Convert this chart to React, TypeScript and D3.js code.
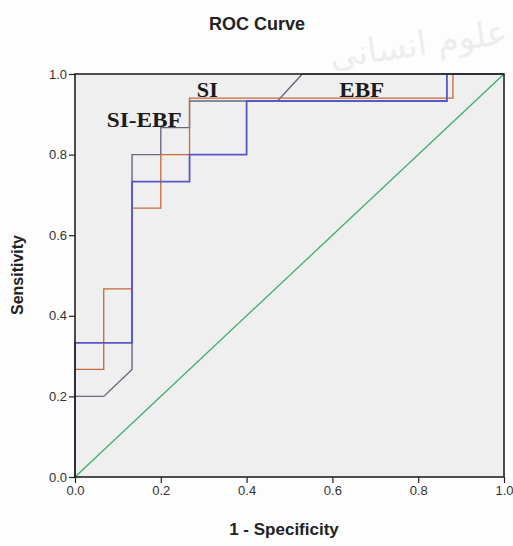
import React, { useEffect, useRef } from 'react';
import * as d3 from 'd3';

// ROC points: [1 - specificity, sensitivity]
const siEbfCurve: [number, number][] = [
  [0, 0], [0, 0.333], [0.133, 0.333], [0.133, 0.733], [0.267, 0.733],
  [0.267, 0.8], [0.4, 0.8], [0.4, 0.933], [0.867, 0.933], [0.867, 1], [1, 1],
];
const ebfCurve: [number, number][] = [
  [0, 0], [0, 0.267], [0.067, 0.267], [0.067, 0.467], [0.133, 0.467],
  [0.133, 0.667], [0.2, 0.667], [0.2, 0.8], [0.267, 0.8], [0.267, 0.94],
  [0.881, 0.94], [0.881, 1], [1, 1],
];
const siCurve: [number, number][] = [
  [0, 0], [0, 0.2], [0.067, 0.2], [0.133, 0.267], [0.133, 0.8], [0.2, 0.8],
  [0.2, 0.867], [0.267, 0.867], [0.267, 0.933], [0.472, 0.933], [0.53, 1], [1, 1],
];
const refLine: [number, number][] = [[0, 0], [1, 1]];

const tickValues = [0, 0.2, 0.4, 0.6, 0.8, 1.0];

// curve labels: text, x value, y value (baseline), drawn width
const curveLabels: [string, number, number, number][] = [
  ['SI', 0.284, 0.944, 21],
  ['SI-EBF', 0.074, 0.868, 75],
  ['EBF', 0.616, 0.944, 45],
];

const App = () => {
  const svgRef = useRef<SVGSVGElement>(null);

  useEffect(() => {
    const svg = d3.select(svgRef.current);
    svg.selectAll('*').remove();

    const width = 513;
    const height = 546;
    const left = 75;
    const right = 504;
    const top = 74;
    const bottom = 477;

    const x = d3.scaleLinear().domain([0, 1]).range([left, right]);
    const y = d3.scaleLinear().domain([0, 1]).range([bottom, top]);

    svg.append('rect')
      .attr('width', width)
      .attr('height', height)
      .attr('fill', '#fdfdfd');

    // faint watermark
    svg.append('text')
      .attr('x', 508)
      .attr('y', 50)
      .attr('text-anchor', 'end')
      .attr('font-family', 'DejaVu Sans')
      .attr('font-size', 34)
      .attr('fill', '#ededed')
      .attr('transform', 'rotate(-8, 460, 45)')
      .text('علوم انسانی');

    // plot background
    svg.append('rect')
      .attr('x', left)
      .attr('y', top)
      .attr('width', right - left)
      .attr('height', bottom - top)
      .attr('fill', '#efefef');

    const line = d3.line<[number, number]>()
      .x(d => x(d[0]))
      .y(d => y(d[1]));

    svg.append('path')
      .datum(refLine)
      .attr('fill', 'none')
      .attr('stroke', '#3bae6e')
      .attr('stroke-width', 1.3)
      .attr('d', line);

    svg.append('path')
      .datum(siCurve)
      .attr('fill', 'none')
      .attr('stroke', '#676a7e')
      .attr('stroke-width', 1.4)
      .attr('d', line);

    svg.append('path')
      .datum(ebfCurve)
      .attr('fill', 'none')
      .attr('stroke', '#c8683a')
      .attr('stroke-width', 1.3)
      .attr('d', line);

    svg.append('path')
      .datum(siEbfCurve)
      .attr('fill', 'none')
      .attr('stroke', '#5757c8')
      .attr('stroke-width', 1.8)
      .attr('d', line);

    // frame drawn over the curves
    svg.append('rect')
      .attr('x', left)
      .attr('y', top)
      .attr('width', right - left)
      .attr('height', bottom - top)
      .attr('fill', 'none')
      .attr('stroke', '#222')
      .attr('stroke-width', 1.6);

    // axes
    const xAxis = svg.append('g')
      .attr('transform', `translate(0,${bottom})`)
      .call(d3.axisBottom(x).tickValues(tickValues).tickSize(6).tickPadding(3).tickFormat(d3.format('.1f')));
    const yAxis = svg.append('g')
      .attr('transform', `translate(${left},0)`)
      .call(d3.axisLeft(y).tickValues(tickValues).tickSize(6).tickPadding(2).tickFormat(d3.format('.1f')));

    [xAxis, yAxis].forEach(a => {
      a.select('.domain').remove();
      a.selectAll('line').attr('stroke', '#222').attr('stroke-width', 1.2);
      a.selectAll('text')
        .attr('font-family', 'Arial, Liberation Sans, sans-serif')
        .attr('font-size', 13)
        .attr('fill', '#333');
    });

    // curve labels
    curveLabels.forEach(([t, vx, vy, w]) => {
      svg.append('text')
        .attr('x', x(vx))
        .attr('y', y(vy))
        .attr('font-family', 'Liberation Serif, Times New Roman, serif')
        .attr('font-weight', 'bold')
        .attr('font-size', 20)
        .attr('fill', '#1a1a1a')
        .attr('textLength', w)
        .attr('lengthAdjust', 'spacingAndGlyphs')
        .text(t);
    });

    // titles
    svg.append('text')
      .attr('x', 257)
      .attr('y', 30)
      .attr('text-anchor', 'middle')
      .attr('font-family', 'Arial, Liberation Sans, sans-serif')
      .attr('font-weight', 'bold')
      .attr('font-size', 18)
      .attr('fill', '#222')
      .text('ROC Curve');

    svg.append('text')
      .attr('x', 284)
      .attr('y', 535)
      .attr('text-anchor', 'middle')
      .attr('font-family', 'Arial, Liberation Sans, sans-serif')
      .attr('font-weight', 'bold')
      .attr('font-size', 17)
      .attr('fill', '#222')
      .text('1 - Specificity');

    svg.append('text')
      .attr('transform', 'translate(23,275) rotate(-90)')
      .attr('text-anchor', 'middle')
      .attr('font-family', 'Arial, Liberation Sans, sans-serif')
      .attr('font-weight', 'bold')
      .attr('font-size', 16)
      .attr('fill', '#222')
      .text('Sensitivity');
  }, []);

  return (
    <svg
      ref={svgRef}
      width={513}
      height={546}
      style={{ position: 'absolute', left: 0, top: 0 }}
    ></svg>
  );
};

export default App;
